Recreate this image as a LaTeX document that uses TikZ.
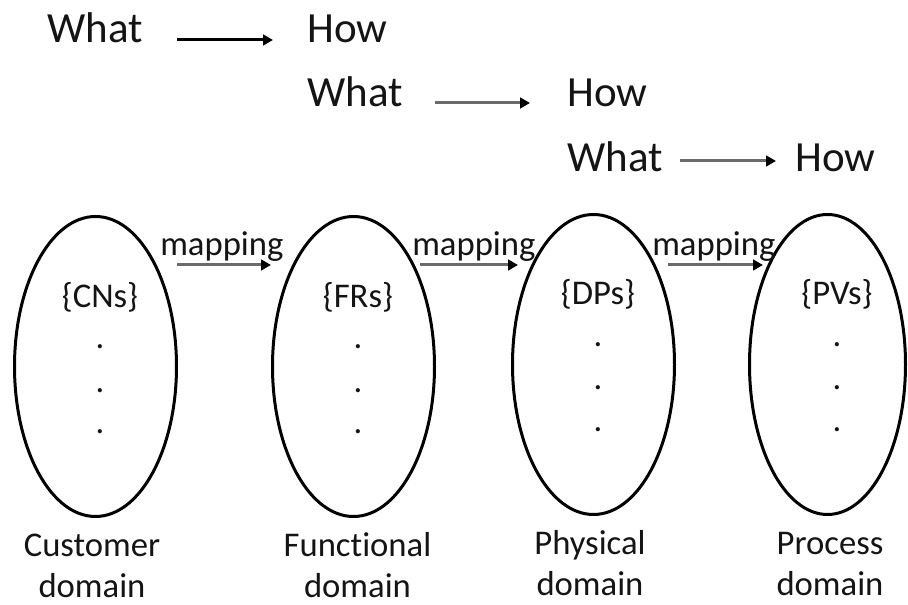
\documentclass[tikz,border=0pt]{standalone}
\usepackage{fontspec}
\setmainfont{Carlito}[Ligatures={NoCommon}]
\usetikzlibrary{arrows.meta,shapes.geometric}
\definecolor{txt}{HTML}{141414}
\definecolor{arrgray}{HTML}{6A6A6A}
\begin{document}
\begin{tikzpicture}[x=0.75pt,y=-0.75pt,
  big/.style={font=\fontsize{32.25pt}{38pt}\selectfont, inner sep=0pt, anchor=base west, text=txt},
  mid/.style={font=\fontsize{26pt}{31.5pt}\selectfont, inner sep=0pt, anchor=base, text=txt},
  midw/.style={mid, anchor=base west},
  dom/.style={draw=black, line width=2.25pt, ellipse, inner sep=0pt},
  blackarr/.style={line width=2.25pt, draw=black, -{Triangle[length=7.5pt,width=8pt]}},
  grayarr/.style={line width=2.25pt, draw=arrgray, -{Triangle[length=7.5pt,width=8pt,color=black]}}
]
\useasboundingbox (0,0) rectangle (908,605);

% What / How rows
\node[big] (w1) at (47,43) {What};
\node[big] (h1) at (307,43) {How};
\node[big] (w2) at (307,107) {What};
\node[big] (h2) at (567,107) {How};
\node[big] (w3) at (567,172) {What};
\node[big] (h3) at (795,172) {How};
\coordinate (a1s) at (177,40);  \coordinate (a1e) at (273,40);
\coordinate (a2s) at (435,103); \coordinate (a2e) at (530,103);
\coordinate (a3s) at (680,161); \coordinate (a3e) at (776,161);
\draw[blackarr] (a1s) -- (a1e);
\draw[grayarr] (a2s) -- (a2e);
\draw[grayarr] (a3s) -- (a3e);

% Domains
\node[dom, minimum width=162*0.75pt, minimum height=300*0.75pt] (d1) at (95.5,366.5) {};
\node[dom, minimum width=162*0.75pt, minimum height=300*0.75pt] (d2) at (353.5,366.5) {};
\node[dom, minimum width=162*0.75pt, minimum height=300*0.75pt] (d3) at (593.5,364.5) {};
\node[dom, minimum width=156*0.75pt, minimum height=300*0.75pt] (d4) at (827.5,364.5) {};

% Sets
\node[mid] (s1) at (100,308) {\{CNs\}};
\node[mid] (s2) at (358,308) {\{FRs\}};
\node[mid] (s3) at (598,305) {\{DPs\}};
\node[mid] (s4) at (837,305) {\{PVs\}};

% dots
\foreach \n/\x/\a/\b/\c in {1/100/349/393/434, 2/358/349/393/434, 3/598/347/390/432, 4/837/347/390/432}{
  \node[mid] (p\n a) at (\x,\a) {.};
  \node[mid] (p\n b) at (\x,\b) {.};
  \node[mid] (p\n c) at (\x,\c) {.};
}

% mapping labels and arrows
\node[midw] (m1) at (160,256) {mapping};
\node[midw] (m2) at (412,256) {mapping};
\node[midw] (m3) at (652,256) {mapping};
\coordinate (m1s) at (177,265); \coordinate (m1e) at (271,265);
\coordinate (m2s) at (420,265); \coordinate (m2e) at (518,265);
\coordinate (m3s) at (668,265); \coordinate (m3e) at (763,265);
\draw[grayarr] (m1s) -- (m1e);
\draw[grayarr] (m2s) -- (m2e);
\draw[grayarr] (m3s) -- (m3e);

% domain labels
\node[mid] (l1a) at (92,557) {Customer};
\node[mid] (l1b) at (92,598) {domain};
\node[mid] (l2a) at (357.5,557) {Functional};
\node[mid] (l2b) at (357.5,598) {domain};
\node[mid] (l3a) at (590,555) {Physical};
\node[mid] (l3b) at (590,596) {domain};
\node[mid] (l4a) at (830,555) {Process};
\node[mid] (l4b) at (830,596) {domain};
\end{tikzpicture}
\end{document}
